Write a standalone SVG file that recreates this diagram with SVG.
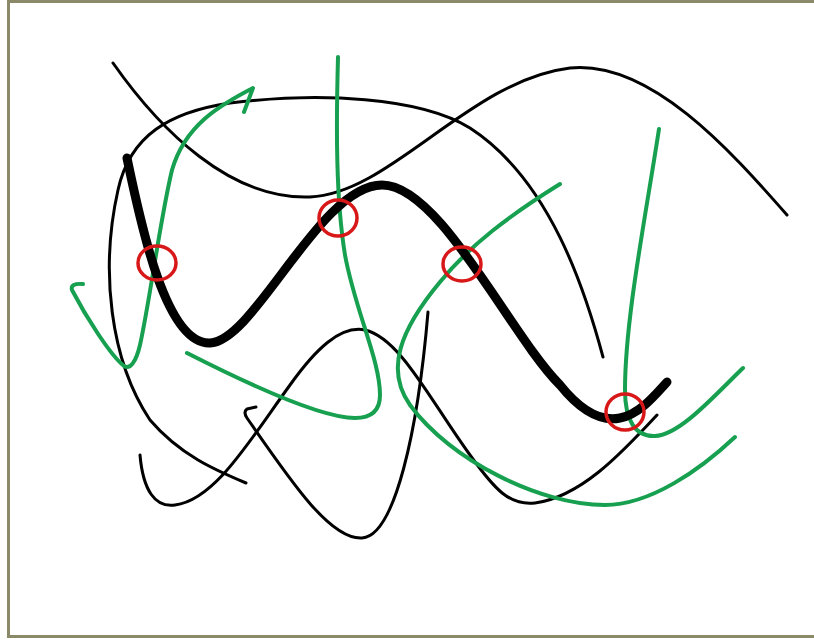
<svg xmlns="http://www.w3.org/2000/svg" width="814" height="640" viewBox="0 0 814 640">
<style>
.k{fill:none;stroke:#000;stroke-width:3;stroke-linecap:round;stroke-linejoin:round}
.kk{fill:none;stroke:#000;stroke-width:9;stroke-linecap:round;stroke-linejoin:round}
.g{fill:none;stroke:#17a050;stroke-width:4;stroke-linecap:round;stroke-linejoin:round}
.r{fill:none;stroke:#d81818;stroke-width:3.5}
</style>
<rect x="0" y="0" width="814" height="640" fill="#ffffff"/>
<rect x="8.5" y="1.5" width="812" height="635" fill="#ffffff" stroke="#8a8a68" stroke-width="3"/>
<g id="black-thin">
<path class="k" d="M113,63 C160,130 230,200 310,197 C390,194 470,80 570,68 C650,60 730,150 787,215"/>
<path class="k" d="M603,357 C585,290 550,180 470,128 C420,97 320,92 230,103 C170,112 130,135 118,190 C100,270 110,360 150,420 C180,455 215,470 246,483"/>
<path class="k" d="M140,455 C143,490 155,508 175,505 C215,500 250,440 290,385 C315,350 340,325 365,330 C400,338 430,400 470,455 C495,490 510,506 535,503 C580,497 620,455 657,415"/>
<path class="k" d="M256,407 L247,409 Q243,412 247,418 C290,480 330,540 362,538 C395,536 418,430 428,312"/>
</g>
<g id="green">
<path class="g" d="M244,112 L253,88 C220,105 185,125 172,170 C160,220 150,300 140,345 C136,362 130,370 124,366 C110,355 85,315 72,290 Q70,283 83,284"/>
<path class="g" d="M338,57 C336,130 336,200 345,255 C355,310 380,360 380,395 C380,412 370,418 355,418 C320,418 240,380 187,353"/>
<path class="g" d="M560,184 C510,215 470,245 440,282 C400,330 385,370 410,405 C450,460 540,505 605,505 C650,505 700,470 735,437"/>
<path class="g" d="M659,129 C645,220 625,320 625,390 C625,420 635,437 655,436 C680,435 715,395 743,368"/>
</g>
<g id="thick">
<path class="kk" d="M127,158 C140,220 165,345 210,343 C255,341 320,185 382,185 C440,185 510,335 560,385 C580,410 600,422 620,418 C640,414 655,395 667,382"/>
</g>
<g id="circles">
<ellipse class="r" cx="157" cy="263" rx="19" ry="17"/>
<ellipse class="r" cx="338" cy="218" rx="19" ry="18"/>
<ellipse class="r" cx="462" cy="264" rx="19" ry="17"/>
<ellipse class="r" cx="625" cy="412" rx="19" ry="18"/>
</g>
</svg>
